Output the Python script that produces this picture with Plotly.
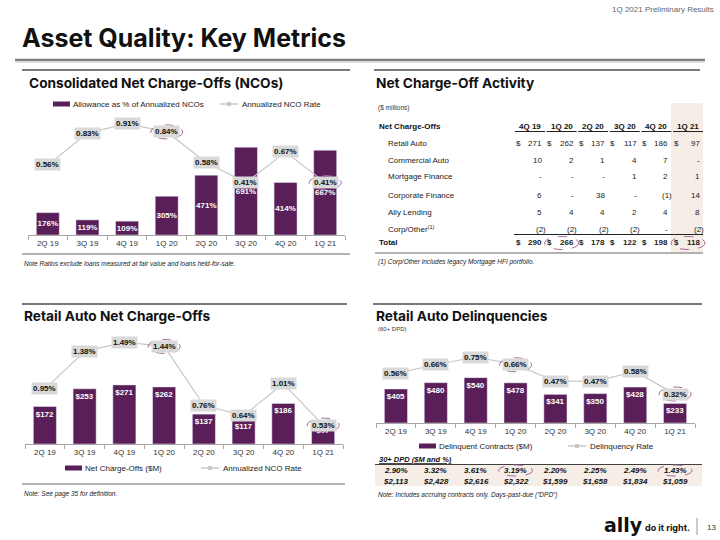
import plotly.graph_objects as go

W, H = 720, 540
FONT = "Liberation Sans"
HEAD = "Inter"
PURPLE = "#5A1E58"
LINE_GRAY = "#C8C8C8"
BOX_GRAY = "#D9D9D9"
AXIS_GRAY = "#A6A6A6"
DASH = "#A5679E"
BEIGE = "#F6EEE6"

quarters = ["2Q 19", "3Q 19", "4Q 19", "1Q 20", "2Q 20", "3Q 20", "4Q 20", "1Q 21"]
highlight = [3, 7]

# consolidated NCOs
allowance_pct = [176, 119, 109, 305, 471, 691, 414, 667]
nco_rate = [0.56, 0.83, 0.91, 0.84, 0.58, 0.41, 0.67, 0.41]

# retail auto NCOs
retail_nco = [172, 253, 271, 262, 137, 117, 186, 97]
retail_nco_rate = [0.95, 1.38, 1.49, 1.44, 0.76, 0.64, 1.01, 0.53]

# retail auto delinquencies (60+ DPD)
delinq_amt = [405, 480, 540, 478, 341, 350, 428, 233]
delinq_rate = [0.56, 0.66, 0.75, 0.66, 0.47, 0.47, 0.58, 0.32]
dpd30_pct = [2.90, 3.32, 3.61, 3.19, 2.20, 2.25, 2.49, 1.43]
dpd30_amt = [2113, 2428, 2616, 2322, 1599, 1658, 1834, 1059]

# net charge-off activity table ($ millions), None = "-"
tbl_cols = ["4Q 19", "1Q 20", "2Q 20", "3Q 20", "4Q 20", "1Q 21"]
tbl_labels = ["Retail Auto", "Commercial Auto", "Mortgage Finance", "Corporate Finance",
              "Ally Lending", "Corp/Other<sup>(1)</sup>"]
tbl_retail_auto = [271, 262, 137, 117, 186, 97]
tbl_commercial_auto = [10, 2, 1, 4, 7, None]
tbl_mortgage = [None, None, None, 1, 2, 1]
tbl_corporate = [6, None, 38, None, -1, 14]
tbl_ally_lending = [5, 4, 4, 2, 4, 8]
tbl_corp_other = [-2, -2, -2, -2, None, -2]
tbl_total = [290, 266, 178, 122, 198, 118]
tbl_highlight = [1, 5]


def px(x):
    return x / W


def py(y):
    return 1 - y / H


annotations = []
shapes = []


def txt(x, y, s, size=8, bold=False, italic=False, color="#222", anchor="left", family=FONT, **kw):
    annotations.append(dict(
        x=kw.pop("xv", px(x)), y=kw.pop("yv", py(y)),
        xref=kw.pop("xref", "paper"), yref=kw.pop("yref", "paper"),
        text=s, showarrow=False, xanchor=anchor, yanchor="middle",
        font=dict(size=size, family=family, color=color,
                  weight="bold" if bold else "normal",
                  style="italic" if italic else "normal"),
        **kw))


def hline(x0, x1, y, color="#404040", width=1.0):
    shapes.append(dict(type="line", xref="paper", yref="paper",
                       x0=px(x0), x1=px(x1), y0=py(y), y1=py(y),
                       line=dict(color=color, width=width)))


def rect(x0, x1, y0, y1, color):
    shapes.append(dict(type="rect", xref="paper", yref="paper", layer="below",
                       x0=px(x0), x1=px(x1), y0=py(y0), y1=py(y1),
                       fillcolor=color, line=dict(width=0)))


def oval_px(xref, xanchor, x0, x1, yref, y0, y1, yanchor=None):
    s = dict(type="circle", xref=xref, yref=yref, xsizemode="pixel", xanchor=xanchor,
             x0=x0, x1=x1, line=dict(color=DASH, width=1, dash="dash"))
    if yanchor is None:
        s.update(y0=y0, y1=y1)
    else:
        s.update(ysizemode="pixel", yanchor=yanchor, y0=y0, y1=y1)
    shapes.append(s)


def legend(y, items):
    for kind, x, label in items:
        if kind == "bar":
            rect(x, x + 17, y - 2.5, y + 2.5, PURPLE)
            txt(x + 18, y, label, size=8)
        else:
            hline(x, x + 18, y, LINE_GRAY, 1.5)
            rect(x + 7, x + 11, y - 2, y + 2, LINE_GRAY)
            txt(x + 20, y, label, size=8)


fig = go.Figure()


def combo(xa, ya, ya2, values, rates, labels, anchor_mode):
    fig.add_trace(go.Bar(
        x=quarters, y=values, xaxis=xa, yaxis=ya, marker_color=PURPLE,
        text=labels, textposition="inside", insidetextanchor=anchor_mode, textangle=0,
        constraintext="none", cliponaxis=False,
        textfont=dict(color="white", size=8, family=FONT, weight="bold"),
        showlegend=False, hoverinfo="skip"))
    fig.add_trace(go.Scatter(
        x=quarters, y=rates, xaxis=xa, yaxis=ya2, mode="lines",
        line=dict(color=LINE_GRAY, width=1.2), showlegend=False, hoverinfo="skip"))
    for i, r in enumerate(rates):
        annotations.append(dict(
            x=i, y=r, xref=xa, yref=ya2, text=f"{r:.2f}%", showarrow=False,
            bgcolor=BOX_GRAY, borderpad=1,
            font=dict(size=8, family=FONT, color="#111", weight="bold")))
    for i in highlight:
        oval_px(xa, i, -16, 16, ya2, -7, 7, yanchor=rates[i])


combo("x", "y", "y2", allowance_pct, nco_rate, [f"{v}%" for v in allowance_pct], "middle")
combo("x2", "y3", "y4", retail_nco, retail_nco_rate, [f"${v}" for v in retail_nco], "end")
combo("x3", "y5", "y6", delinq_amt, delinq_rate, [f"${v}" for v in delinq_amt], "end")

# header
txt(716, 10, "1Q 2021 Preliminary Results", size=8, color="#666", anchor="right")
txt(20, 38, "Asset Quality: Key Metrics", size=25, bold=True, color="#111", family=HEAD)
hline(15, 705, 60, "#808080", 2.5)
hline(15, 705, 62, "#D8D8D8", 1.5)

# panel separators and titles
hline(22, 350, 70, "#4D4D4D", 1.5)
hline(374, 700, 70, "#4D4D4D", 1.5)
hline(22, 347, 304, "#4D4D4D", 1.5)
hline(373, 702, 304, "#4D4D4D", 1.5)
txt(27, 83, "Consolidated Net Charge-Offs (NCOs)", size=13.7, bold=True, color="#111", family=HEAD)
txt(374, 83, "Net Charge-Off Activity", size=13.7, bold=True, color="#111", family=HEAD)
txt(22, 316, "Retail Auto Net Charge-Offs", size=13.7, bold=True, color="#111", family=HEAD)
txt(374, 316, "Retail Auto Delinquencies", size=13.7, bold=True, color="#111", family=HEAD)
txt(376, 329, "(60+ DPD)", size=6, color="#333")

# legends
legend(104, [("bar", 53, "Allowance as % of Annualized NCOs"), ("line", 220, "Annualized NCO Rate")])
legend(468, [("bar", 65, "Net Charge-Offs ($M)"), ("line", 201, "Annualized NCO Rate")])
legend(446, [("bar", 419, "Delinquent Contracts ($M)"), ("line", 568, "Delinquency Rate")])

# notes
hline(22, 350, 254, "#999999", 1.5)
txt(22, 263, "Note Ratios exclude loans measured at fair value and loans held-for-sale.",
    size=6.5, italic=True, color="#222")
hline(22, 345, 484, "#999999", 1.5)
txt(22, 494, "Note: See page 35 for definition.", size=6.5, italic=True, color="#222")
txt(376, 495, "Note: Includes accruing contracts only. Days-past-due (\u201cDPD\u201d)",
    size=6.5, italic=True, color="#222")

# net charge-off activity table
cols_x = [530 + 31.6 * i for i in range(len(tbl_cols))]
rect(671, 703, 103, 252, BEIGE)
txt(376, 108, "($ millions)", size=6.5, color="#333")
txt(377, 126, "Net Charge-Offs", size=8, bold=True, color="#111")
for c, name in zip(cols_x, tbl_cols):
    txt(c, 126, name, size=8, bold=True, color="#111", anchor="center")
    hline(c - 15, c + 15, 131.5, "#222", 1)


def fmt(v):
    if v is None:
        return "-"
    if v < 0:
        return f"({-v})"
    return f"{v}"


def cell(c, y, v, dollar=False, bold=False):
    if dollar:
        txt(c - 12, y, "$", size=8, bold=bold, color="#222", anchor="center")
    if v is not None and v < 0:
        txt(c + 17.5, y, fmt(v), size=8, bold=bold, color="#222", anchor="right")
    else:
        txt(c + 14, y, fmt(v), size=8, bold=bold, color="#222", anchor="right")


tbl_rows = [tbl_retail_auto, tbl_commercial_auto, tbl_mortgage, tbl_corporate,
            tbl_ally_lending, tbl_corp_other]
row_y = [143, 160, 177, 195, 212, 229]
for label, vals, y in zip(tbl_labels, tbl_rows, row_y):
    txt(386, y, label, size=8, color="#222")
    for c, v in zip(cols_x, vals):
        cell(c, y, v, dollar=(vals is tbl_retail_auto))
hline(514, 703, 234.5, "#222", 1.2)
txt(377, 243, "Total", size=8, bold=True, color="#111")
for c, v in zip(cols_x, tbl_total):
    cell(c, 243, v, dollar=True, bold=True)
for i in tbl_highlight:
    shapes.append(dict(type="circle", xref="paper", yref="paper",
                       x0=px(cols_x[i] - 17), x1=px(cols_x[i] + 17), y0=py(249.5), y1=py(236.5),
                       line=dict(color=DASH, width=1, dash="dash")))
hline(375, 703, 253, "#999999", 1.5)
txt(376, 262, "(1) Corp/Other includes legacy Mortgage HFI portfolio.", size=6.5, italic=True, color="#222")

# 30+ DPD strip
txt(377, 459, "<u>30+ DPD ($M and %)</u>", size=7.5, bold=True, italic=True, color="#111")
hline(375, 702, 464.5, "#404040", 1.2)
rect(375, 702, 465, 486, BEIGE)
for i, (p, a) in enumerate(zip(dpd30_pct, dpd30_amt)):
    txt(0, 0, f"{p:.2f}%", size=8, bold=True, italic=True, color="#111", anchor="center",
        xref="x3", xv=i, yv=py(470.5))
    txt(0, 0, f"${a:,}", size=8, bold=True, italic=True, color="#111", anchor="center",
        xref="x3", xv=i, yv=py(481))
for i in highlight:
    oval_px("x3", i, -17, 17, "paper", py(476), py(465))

# footer logo
txt(602, 525, "ally", size=19, bold=True, color="#111", family="DejaVu Sans")
txt(643, 527, "do it right.", size=9, bold=True, color="#111", family=HEAD)
shapes.append(dict(type="line", xref="paper", yref="paper", x0=px(697), x1=px(697),
                   y0=py(518), y1=py(535), line=dict(color="#999", width=1)))
txt(711, 527, "13", size=8, color="#333", anchor="center")

xcommon = dict(type="category", range=[-0.5, 7.5], showline=True, linecolor=AXIS_GRAY,
               linewidth=1, ticks="outside", tickson="boundaries", ticklen=4,
               tickcolor=AXIS_GRAY, tickfont=dict(size=8, family=FONT, color="#333"),
               showgrid=False, zeroline=False, fixedrange=True)
yhide = dict(visible=False, showgrid=False, zeroline=False, fixedrange=True)

fig.update_layout(
    width=W, height=H, margin=dict(l=0, r=0, t=0, b=0),
    paper_bgcolor="white", plot_bgcolor="rgba(0,0,0,0)",
    bargap=0.42, showlegend=False,
    xaxis=dict(domain=[px(28), px(345)], anchor="y", **xcommon),
    yaxis=dict(domain=[py(235), py(120)], anchor="x", range=[0, 905], **yhide),
    yaxis2=dict(overlaying="y", anchor="x", range=[-0.034, 0.941], **yhide),
    xaxis2=dict(domain=[px(25), px(343)], anchor="y3", **xcommon),
    yaxis3=dict(domain=[py(444), py(330)], anchor="x2", range=[0, 523], **yhide),
    yaxis4=dict(overlaying="y3", anchor="x2", range=[0.312, 1.630], **yhide),
    xaxis3=dict(domain=[px(376), px(695)], anchor="y5", **xcommon),
    yaxis5=dict(domain=[py(423), py(340)], anchor="x3", range=[0, 988], **yhide),
    yaxis6=dict(overlaying="y5", anchor="x3", range=[-0.017, 0.948], **yhide),
    annotations=annotations, shapes=shapes,
)

fig.write_html("out.html", config={"displayModeBar": False},
               post_script="document.body.style.margin = '0';")
